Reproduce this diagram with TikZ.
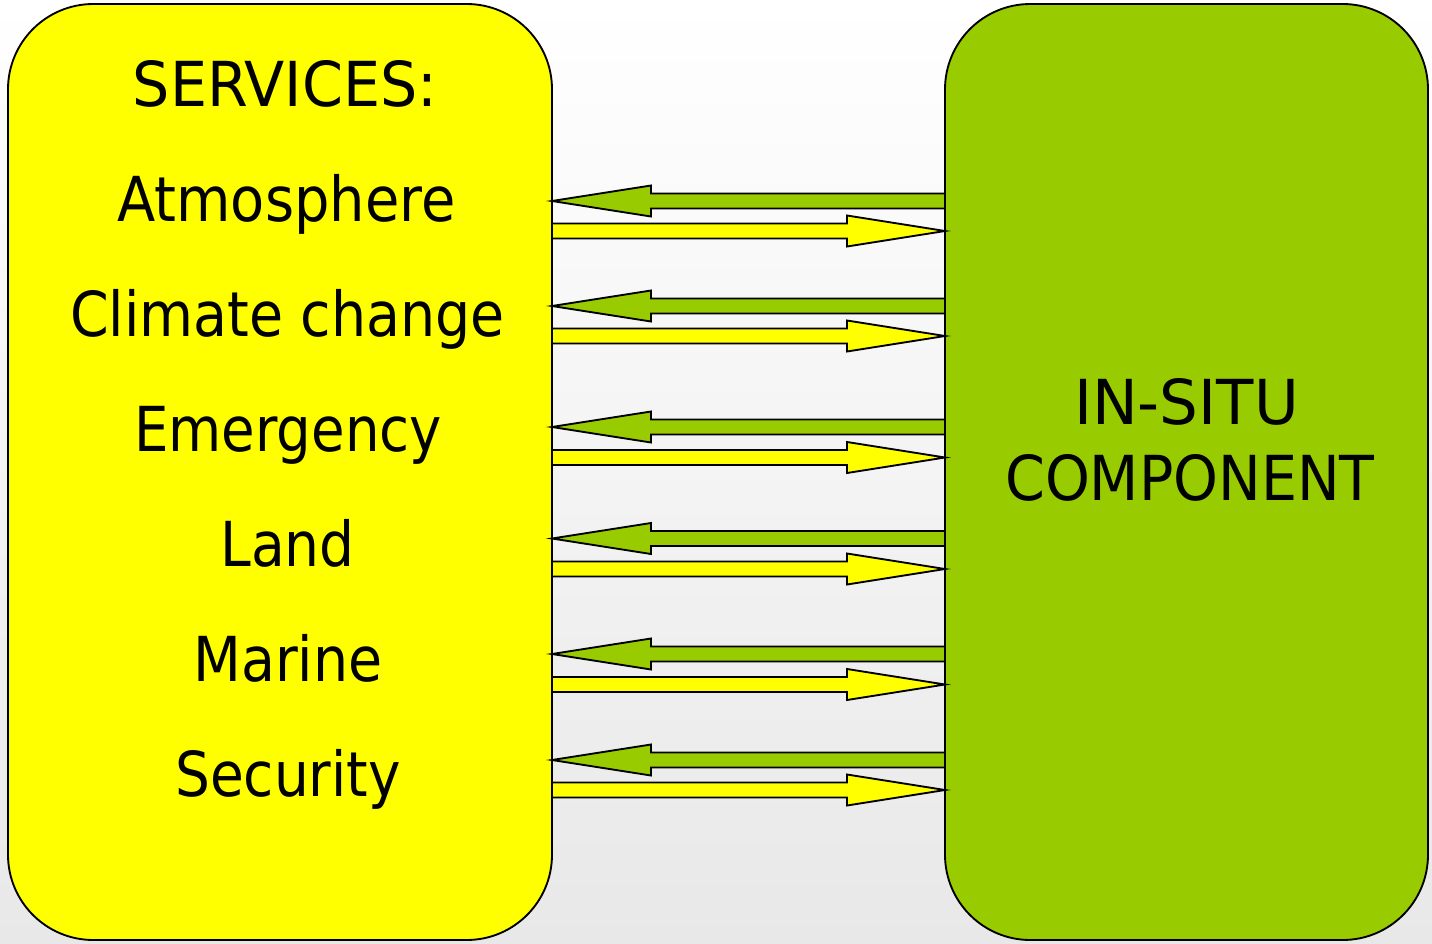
\documentclass[tikz,border=0pt]{standalone}
\usepackage{fontspec}
\setmainfont{DejaVu Sans}[FakeStretch=0.88]
\usetikzlibrary{calc}
\definecolor{svcyellow}{HTML}{FFFF00}
\definecolor{insitugreen}{HTML}{99CC00}
\newcommand{\wlabel}[2]{\scalebox{#1}[1]{#2}}
\begin{document}
\begin{tikzpicture}[x=0.75pt,y=-0.75pt,
  panel/.style={draw=black,line width=1.4pt,rounded corners=64pt,inner sep=0pt,outer sep=0pt,anchor=north west},
  label/.style={anchor=base,inner sep=0pt,font=\fontsize{46.5pt}{56pt}\selectfont},
  blockarrow/.style={draw=black,line width=1.4pt,line join=miter}]
\useasboundingbox (0,0) rectangle (1432,943);
\shade[top color=white,bottom color=white!91!black] (0,0) rectangle (1432,943);
\node[panel,fill=svcyellow,minimum width=544*0.75pt,minimum height=936*0.75pt] (svc) at (8,4) {};
\node[panel,fill=insitugreen,minimum width=483*0.75pt,minimum height=936*0.75pt] (ins) at (945,4) {};
\node[label] (t0) at (285,106.3) {\wlabel{1.076}{SERVICES:}};
\node[label] (t1) at (286.5,221.7) {\wlabel{1.024}{Atmosphere}};
\node[label] (t2) at (287.5,336.7) {\wlabel{1.016}{Climate change}};
\node[label] (t3) at (288,451.7) {Emergency};
\node[label] (t4) at (287.5,566.7) {\wlabel{1.01}{Land}};
\node[label] (t5) at (288,681.7) {\wlabel{1.016}{Marine}};
\node[label] (t6) at (288,796.7) {\wlabel{1.007}{Security}};
\node[label] (r1) at (1186.5,424) {\wlabel{1.12}{IN-SITU}};
\node[label] (r2) at (1190,500) {\wlabel{1.046}{COMPONENT}};
\foreach \g/\yl in {201/231,306/336,427/457.5,538.5/569,654/684.5,760/790}{
  % green arrow: from IN-SITU to SERVICES
  \draw[blockarrow,fill=insitugreen]
    (svc.east |- 0,\g) -- ++(99,-15.5) -- ++(0,8) -- (ins.west |- 0,\g-7.5)
    -- ++(0,15) -- ($(svc.east |- 0,\g)+(99,7.5)$) -- ++(0,8) -- cycle;
  % yellow arrow: from SERVICES to IN-SITU
  \draw[blockarrow,fill=svcyellow]
    (svc.east |- 0,\yl-7.5) -- ($(ins.west |- 0,\yl-7.5)+(-98,0)$) -- ++(0,-8)
    -- (ins.west |- 0,\yl) -- ($(ins.west |- 0,\yl)+(-98,15.5)$) -- ++(0,-8)
    -- (svc.east |- 0,\yl+7.5) -- cycle;
}
\end{tikzpicture}
\end{document}
